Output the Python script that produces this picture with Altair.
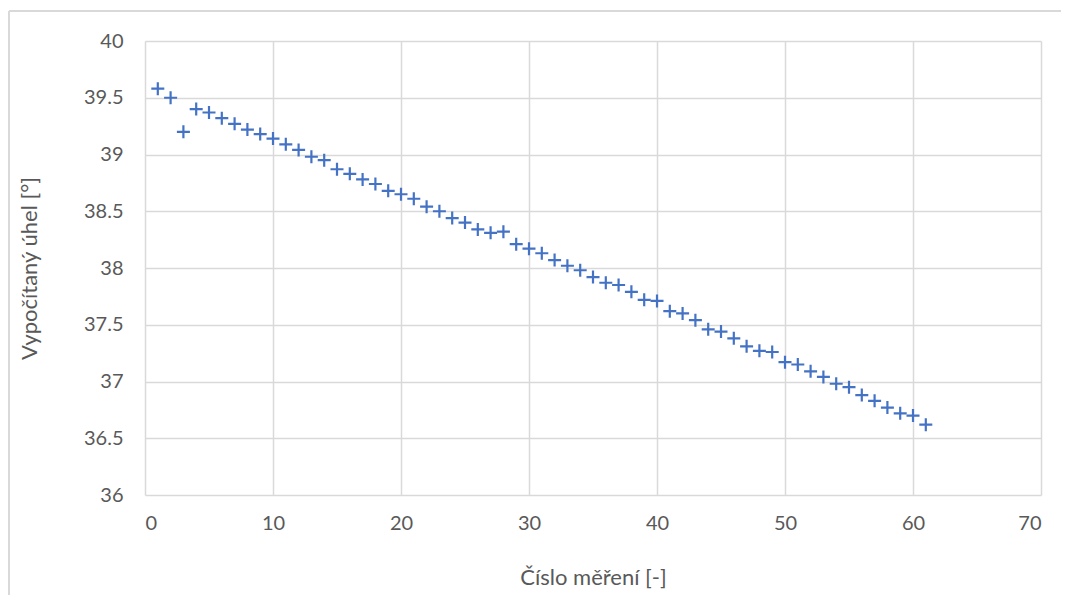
import altair as alt
import pandas as pd

measurement = list(range(1, 62))
angle = [
    39.58, 39.50, 39.20, 39.40, 39.37, 39.32, 39.27, 39.22, 39.18, 39.14,
    39.09, 39.04, 38.98, 38.95, 38.87, 38.83, 38.78, 38.74, 38.68, 38.65,
    38.61, 38.54, 38.50, 38.44, 38.40, 38.34, 38.31, 38.32, 38.21, 38.17,
    38.13, 38.07, 38.02, 37.98, 37.92, 37.87, 37.85, 37.79, 37.72, 37.71,
    37.62, 37.60, 37.54, 37.46, 37.44, 37.38, 37.31, 37.27, 37.26, 37.17,
    37.15, 37.09, 37.04, 36.98, 36.95, 36.88, 36.83, 36.77, 36.72, 36.70,
    36.62,
]
x_ticks = [0, 10, 20, 30, 40, 50, 60, 70]
y_ticks = [36, 36.5, 37, 37.5, 38, 38.5, 39, 39.5, 40]

df = pd.DataFrame({"n": measurement, "angle": angle})

FONT = "Lato"
GRID = "#d9d9d9"
TXT = "#595959"

points = alt.Chart(df).mark_point(
    shape="M-1,0L1,0M0,-1L0,1",
    filled=False,
    size=169,
    strokeWidth=2.2,
    color="#4472C4",
    opacity=1,
).encode(
    x=alt.X(
        "n:Q",
        scale=alt.Scale(domain=[0, 70], nice=False, zero=False),
        axis=alt.Axis(
            values=x_ticks,
            format="d",
            title="Číslo měření [-]",
            grid=True, gridColor=GRID, gridWidth=1.5,
            domain=False, ticks=False,
            labelFont=FONT, labelFontSize=20, labelColor=TXT, labelPadding=18,
            titleFont=FONT, titleFontSize=22, titleColor=TXT, titleFontWeight="normal",
            titlePadding=34,
        ),
    ),
    y=alt.Y(
        "angle:Q",
        scale=alt.Scale(domain=[36, 40], nice=False, zero=False),
        axis=alt.Axis(
            values=y_ticks,
            format="~g",
            title="Vypočítaný úhel [°]",
            grid=True, gridColor=GRID, gridWidth=1.5,
            domain=False, ticks=False,
            labelFont=FONT, labelFontSize=20, labelColor=TXT, labelPadding=22,
            titleFont=FONT, titleFontSize=22, titleColor=TXT, titleFontWeight="normal",
            titlePadding=42,
        ),
    ),
)

border_top = alt.Chart(pd.DataFrame({"a": [0]})).mark_rule(
    color=GRID, strokeWidth=2, clip=False
).encode(x=alt.value(-136), x2=alt.value(930), y=alt.value(-30))

border_left = alt.Chart(pd.DataFrame({"a": [0]})).mark_rule(
    color=GRID, strokeWidth=2, clip=False
).encode(x=alt.value(-136), y=alt.value(-30), y2=alt.value(600))

chart = alt.layer(border_top, border_left, points).properties(
    width=896,
    height=454,
    autosize=alt.AutoSizeParams(type="none"),
    padding={"left": 137, "top": 33, "right": 20, "bottom": 100},
    background="white",
).configure_view(stroke=None)

chart.save("out.html", embed_options={"renderer": "svg", "actions": False})
